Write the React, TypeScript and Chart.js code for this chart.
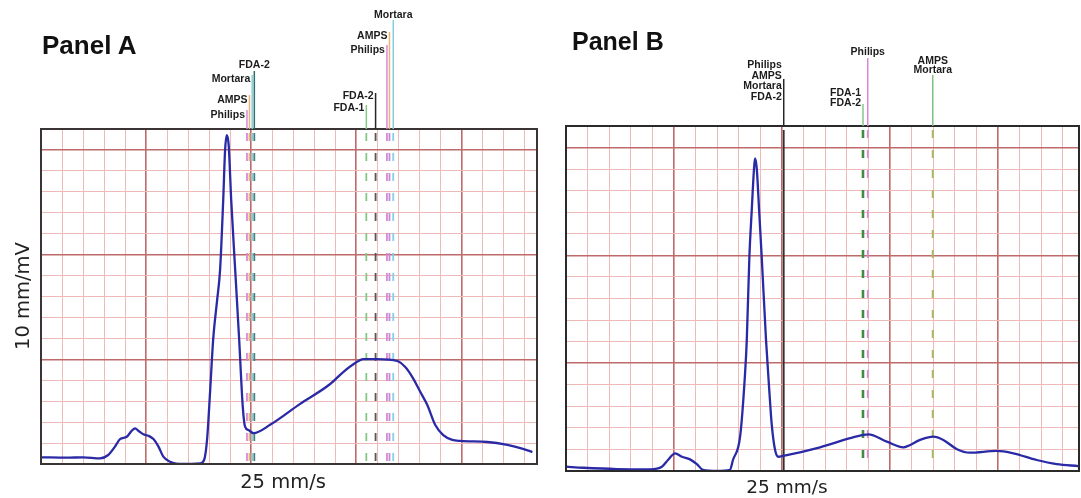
import React, { useEffect, useRef } from 'react';
import { Chart, registerables } from 'chart.js';

Chart.register(...registerables);

// ---------- DATA (time in mm at 25 mm/s, amplitude in mm at 10 mm/mV) ----------
const timeA = [
  0.03, 1.22, 2.01, 2.81, 3.2, 3.52, 3.76, 4.08, 4.32, 4.48, 4.63, 4.87, 5.11, 5.35, 5.59, 5.82, 6.14, 6.78, 7.57,
  7.76, 7.9, 8.05, 8.19, 8.38, 8.52, 8.67, 8.76, 8.84, 8.93, 9.05, 9.24, 9.43, 9.6, 9.71, 9.87, 10.11,
  10.9, 12.33, 13.76, 14.38, 14.95, 15.33, 16.0, 16.95, 17.33, 17.67, 18.05, 18.38, 18.76, 19.14, 19.57, 19.95,
  21.24, 22.19, 22.81, 23.38,
];
const ampA = [
  0.32, 0.3, 0.32, 0.27, 0.43, 0.83, 1.19, 1.3, 1.59, 1.7, 1.59, 1.42, 1.35, 1.19, 0.83, 0.35, 0.11, 0.0, 0.03,
  0.19, 1.15, 3.53, 5.92, 7.83, 9.26, 12.61, 15.0, 15.71, 15.23, 12.61, 9.26, 5.92, 2.74, 1.78, 1.62, 1.47,
  1.87, 2.87, 3.82, 4.39, 4.82, 5.01, 5.01, 4.92, 4.63, 4.15, 3.44, 2.82, 1.86, 1.38, 1.15, 1.1,
  1.05, 0.91, 0.76, 0.57,
];

const timeB = [
  0.0, 0.79, 2.36, 3.89, 4.44, 4.72, 5.05, 5.37, 5.74, 6.06, 6.34, 6.99, 7.59, 7.73,
  8.06, 8.29, 8.37, 8.49, 8.6, 8.7, 8.75, 8.83, 8.94, 9.06, 9.26, 9.41, 9.52, 9.68, 9.83, 10.06,
  11.76, 13.15, 13.76, 14.0, 14.85, 15.62, 16.39, 17.0, 17.47, 18.1, 18.7, 19.94, 20.71, 21.79, 22.72, 23.72,
];
const ampB = [
  0.2, 0.15, 0.09, 0.08, 0.2, 0.51, 0.82, 0.66, 0.54, 0.32, 0.05, 0.0, 0.05, 0.51,
  1.59, 4.53, 6.08, 9.94, 12.11, 13.96, 14.5, 14.05, 12.11, 9.94, 6.08, 3.76, 2.21, 0.97, 0.66, 0.7,
  1.1, 1.52, 1.67, 1.7, 1.36, 1.1, 1.44, 1.59, 1.44, 1.01, 0.85, 0.93, 0.82, 0.51, 0.32, 0.23,
];

// Marker annotations: labels and positions (mm)
const markerNamesA = [['Philips'], ['AMPS'], ['Mortara'], ['FDA-2'], ['FDA-1'], ['FDA-2'], ['Philips'], ['AMPS'], ['Mortara']];
const markerPosA = [9.8, 9.92, 10.05, 10.15, 15.48, 15.92, 16.46, 16.58, 16.76];

const markerNamesB = [['Philips', 'AMPS', 'Mortara', 'FDA-2'], ['FDA-1', 'FDA-2'], ['Philips'], ['AMPS', 'Mortara']];
const markerPosB = [10.08, 13.75, 13.97, 16.98];

const xMaxA = 23.6;
const xMaxB = 23.75;
const yMax = 16;

// ---------- STYLES ----------
type MarkerStyle = {
  color: string;
  plotColor: string;
  dash: number[];
  width: number;
  align: 'right' | 'center';
  labelY: number;
  step: number;
  lineTop: number;
};

const PINK = '#d88ad6';
const ORANGE = '#efb27c';
const CYAN = '#84d0e2';
const BLACK = '#262626';
const GREEN = '#86c886';

const stylesA: MarkerStyle[] = [
  { color: PINK, plotColor: PINK, dash: [8, 12], width: 1.8, align: 'right', labelY: 115, step: 0, lineTop: 110 },
  { color: ORANGE, plotColor: ORANGE, dash: [8, 12], width: 1.8, align: 'right', labelY: 100, step: 0, lineTop: 95 },
  { color: CYAN, plotColor: CYAN, dash: [8, 12], width: 1.8, align: 'right', labelY: 79, step: 0, lineTop: 75 },
  { color: '#2f6f66', plotColor: '#4d7f7a', dash: [8, 12], width: 1.8, align: 'center', labelY: 65, step: 0, lineTop: 71 },
  { color: GREEN, plotColor: GREEN, dash: [8, 12], width: 1.8, align: 'right', labelY: 108, step: 0, lineTop: 105 },
  { color: BLACK, plotColor: '#555555', dash: [8, 12], width: 1.8, align: 'right', labelY: 96, step: 0, lineTop: 93 },
  { color: PINK, plotColor: PINK, dash: [8, 12], width: 1.8, align: 'right', labelY: 50, step: 0, lineTop: 45 },
  { color: ORANGE, plotColor: '#c58ad8', dash: [8, 12], width: 1.8, align: 'right', labelY: 36, step: 0, lineTop: 32 },
  { color: CYAN, plotColor: CYAN, dash: [8, 12], width: 1.8, align: 'center', labelY: 15, step: 0, lineTop: 20 },
];

const stylesB: MarkerStyle[] = [
  { color: BLACK, plotColor: '#303030', dash: [], width: 1.8, align: 'right', labelY: 65, step: 10.7, lineTop: 79 },
  { color: GREEN, plotColor: '#3f8c3f', dash: [8, 12], width: 2.6, align: 'right', labelY: 93, step: 10.5, lineTop: 104 },
  { color: PINK, plotColor: PINK, dash: [8, 12], width: 1.8, align: 'center', labelY: 52, step: 0, lineTop: 58 },
  { color: '#7fc07f', plotColor: '#a9b862', dash: [8, 12], width: 2, align: 'center', labelY: 61, step: 8.7, lineTop: 75 },
];

const MINOR = '#eeb9b9';
const MAJOR = '#bf6a6a';

function makeMarkerPlugin(names: string[][], pos: number[], styles: MarkerStyle[], frameColor: string) {
  return {
    id: 'ecgMarkers',
    beforeDatasetsDraw(chart: any) {
      const { ctx, chartArea, scales } = chart;
      ctx.save();
      pos.forEach((v, i) => {
        const s = styles[i];
        const px = scales.x.getPixelForValue(v);
        ctx.strokeStyle = s.plotColor;
        ctx.lineWidth = s.width;
        ctx.setLineDash(s.dash);
        ctx.beginPath();
        ctx.moveTo(px, chartArea.top + 4);
        ctx.lineTo(px, chartArea.bottom);
        ctx.stroke();
      });
      ctx.restore();
    },
    afterDraw(chart: any) {
      const { ctx, chartArea, scales } = chart;
      ctx.save();
      // frame
      ctx.setLineDash([]);
      ctx.strokeStyle = frameColor;
      ctx.lineWidth = 2;
      ctx.strokeRect(chartArea.left, chartArea.top, chartArea.right - chartArea.left, chartArea.bottom - chartArea.top);
      // marker stems and labels
      ctx.font = 'bold 10.5px "Liberation Sans", Arial, sans-serif';
      ctx.textBaseline = 'middle';
      ctx.fillStyle = '#1c1c1c';
      pos.forEach((v, i) => {
        const s = styles[i];
        const px = scales.x.getPixelForValue(v);
        ctx.strokeStyle = s.color;
        ctx.lineWidth = 1.5;
        ctx.beginPath();
        ctx.moveTo(px, s.lineTop);
        ctx.lineTo(px, chartArea.top);
        ctx.stroke();
        names[i].forEach((n, j) => {
          const y = s.labelY + j * s.step;
          if (s.align === 'right') {
            ctx.textAlign = 'right';
            ctx.fillText(n, px - 2, y);
          } else {
            ctx.textAlign = 'center';
            ctx.fillText(n, px, y);
          }
        });
      });
      ctx.restore();
    },
  };
}

type PanelProps = {
  left: number;
  width: number;
  padding: { left: number; right: number; top: number; bottom: number };
  time: number[];
  amp: number[];
  xMax: number;
  names: string[][];
  pos: number[];
  styles: MarkerStyle[];
  frameColor: string;
};

function EcgPanel(p: PanelProps) {
  const ref = useRef<HTMLCanvasElement | null>(null);
  useEffect(() => {
    if (!ref.current) return;
    const gridOpts = {
      color: (c: any) => (c.tick && Math.round(c.tick.value) % 5 === 0 ? MAJOR : MINOR),
      lineWidth: (c: any) => (c.tick && Math.round(c.tick.value) % 5 === 0 ? 1.6 : 1),
      drawTicks: false,
    };
    const chart = new Chart(ref.current, {
      type: 'line',
      data: {
        datasets: [
          {
            data: p.time.map((t, i) => ({ x: t, y: p.amp[i] })),
            borderColor: '#2a2aa6',
            borderWidth: 2.3,
            pointRadius: 0,
            cubicInterpolationMode: 'monotone',
            fill: false,
          },
        ],
      },
      options: {
        animation: false,
        responsive: true,
        maintainAspectRatio: false,
        events: [],
        layout: { padding: p.padding },
        plugins: { legend: { display: false }, tooltip: { enabled: false } },
        scales: {
          x: {
            type: 'linear',
            min: 0,
            max: p.xMax,
            ticks: { display: false, stepSize: 1, includeBounds: false },
            grid: gridOpts,
            border: { display: false },
          },
          y: {
            type: 'linear',
            min: 0,
            max: yMax,
            ticks: { display: false, stepSize: 1, includeBounds: false },
            grid: gridOpts,
            border: { display: false },
          },
        },
      } as any,
      plugins: [makeMarkerPlugin(p.names, p.pos, p.styles, p.frameColor)],
    });
    return () => chart.destroy();
  }, []);
  return (
    <div style={{ position: 'absolute', left: p.left, top: 0, width: p.width, height: 498 }}>
      <canvas ref={ref} />
    </div>
  );
}

export default function App() {
  const title: React.CSSProperties = {
    position: 'absolute',
    fontFamily: '"Liberation Sans", Arial, sans-serif',
    fontWeight: 'bold',
    color: '#111',
    whiteSpace: 'nowrap',
  };
  const axis: React.CSSProperties = {
    position: 'absolute',
    fontFamily: '"DejaVu Sans", sans-serif',
    color: '#222',
    whiteSpace: 'nowrap',
    textAlign: 'center',
  };
  return (
    <div style={{ position: 'absolute', left: 0, top: 0, width: 1081, height: 498, background: '#fff', overflow: 'hidden' }}>
      <EcgPanel
        left={0}
        width={550}
        padding={{ left: 41, right: 13, top: 129, bottom: 34 }}
        time={timeA}
        amp={ampA}
        xMax={xMaxA}
        names={markerNamesA}
        pos={markerPosA}
        styles={stylesA}
        frameColor="#3a3434"
      />
      <EcgPanel
        left={550}
        width={531}
        padding={{ left: 16, right: 2, top: 126, bottom: 27 }}
        time={timeB}
        amp={ampB}
        xMax={xMaxB}
        names={markerNamesB}
        pos={markerPosB}
        styles={stylesB}
        frameColor="#2a2a2a"
      />
      <div style={{ ...title, left: 42, top: 32, fontSize: 26, lineHeight: '26px' }}>Panel A</div>
      <div style={{ ...title, left: 572, top: 29, fontSize: 25, lineHeight: '25px' }}>Panel B</div>
      <div style={{ ...axis, left: 183, top: 472, width: 200, fontSize: 19.5, lineHeight: '19.5px' }}>25 mm/s</div>
      <div style={{ ...axis, left: 687, top: 478, width: 200, fontSize: 18.5, lineHeight: '18.5px' }}>25 mm/s</div>
      <div
        style={{
          ...axis,
          left: 23 - 100,
          top: 296 - 12,
          width: 200,
          height: 24,
          fontSize: 19.5,
          lineHeight: '24px',
          transform: 'rotate(-90deg)',
        }}
      >
        10 mm/mV
      </div>
    </div>
  );
}
